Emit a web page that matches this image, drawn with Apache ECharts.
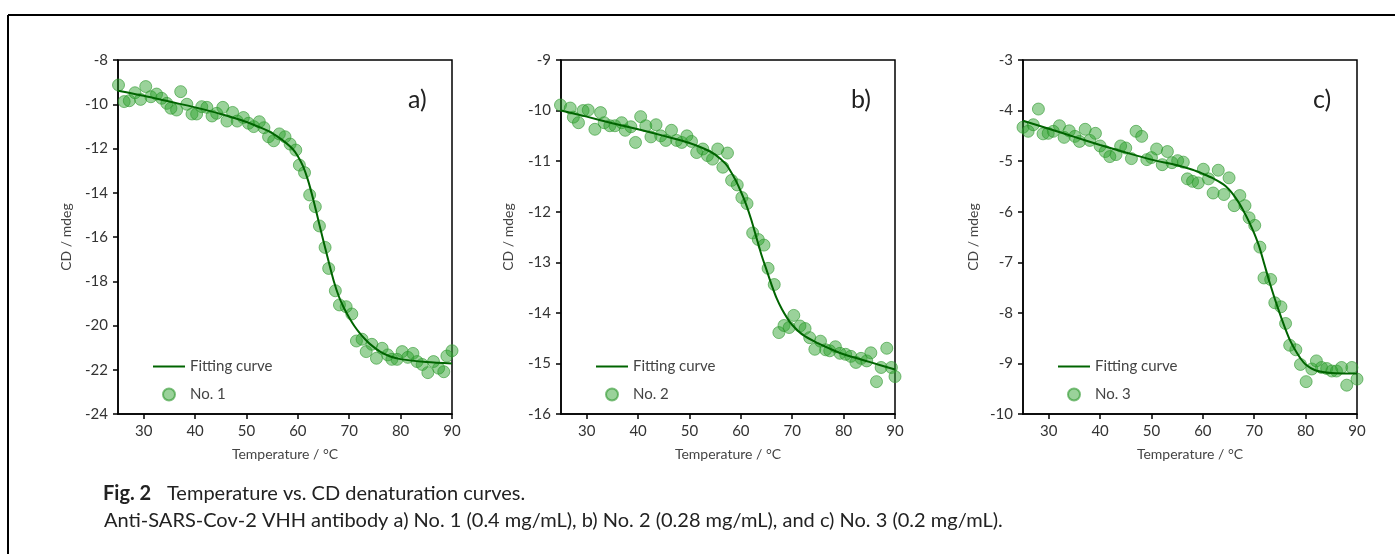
<!DOCTYPE html>
<html>
<head>
<meta charset="utf-8">
<script src="https://cdn.jsdelivr.net/npm/echarts@6/dist/echarts.min.js"></script>
<style>
  html, body { margin: 0; padding: 0; background: #fff; }
  #chart { width: 1395px; height: 554px; }
</style>
</head>
<body>
<div id="chart"></div>
<script>
// temperature ticks shared by the three panels
const xTicks = [30, 40, 50, 60, 70, 80, 90];

// a) No. 1 (0.4 mg/mL)
const tA = [25.1, 26.2, 27.2, 28.3, 29.4, 30.4, 31.4, 32.5, 33.5, 34.5, 35.3, 36.4, 37.2, 38.4, 39.4, 40.3, 41.3, 42.3, 43.3, 44.2, 45.4, 46.2, 47.3, 48.2, 49.4, 50.4, 51.4, 52.5, 53.4, 54.3, 55.3, 56.4, 57.5, 58.5, 59.6, 60.3, 61.3, 62.3, 63.4, 64.2, 65.3, 66.0, 67.3, 68.1, 69.4, 70.5, 71.4, 72.5, 73.3, 74.4, 75.3, 76.4, 77.5, 78.3, 79.3, 80.3, 81.4, 82.4, 83.2, 84.2, 85.3, 86.4, 87.4, 88.4, 89.0, 90.0];
const cdA = [-9.13, -9.88, -9.84, -9.48, -9.78, -9.2, -9.66, -9.54, -9.73, -9.96, -10.18, -10.26, -9.43, -10.0, -10.44, -10.44, -10.11, -10.14, -10.53, -10.41, -10.14, -10.76, -10.37, -10.76, -10.6, -10.86, -11.01, -10.79, -11.06, -11.47, -11.65, -11.34, -11.47, -11.8, -12.07, -12.75, -13.09, -14.1, -14.63, -15.5, -16.47, -17.42, -18.43, -19.07, -19.15, -19.48, -20.7, -20.62, -21.18, -20.85, -21.48, -21.03, -21.33, -21.53, -21.53, -21.18, -21.44, -21.26, -21.63, -21.76, -22.13, -21.63, -21.93, -22.09, -21.38, -21.14];
const fitTA = [25, 30, 35, 40, 45, 50, 53, 55, 57, 59, 60, 61, 62, 63, 64, 65, 66, 67, 68, 69, 70, 71, 72, 73, 74, 76, 78, 80, 85, 90];
const fitA = [-9.39, -9.62, -9.88, -10.14, -10.44, -10.8, -11.08, -11.3, -11.62, -12.02, -12.35, -12.8, -13.45, -14.3, -15.25, -16.2, -17.12, -18.0, -18.7, -19.22, -19.65, -20.02, -20.33, -20.6, -20.83, -21.18, -21.4, -21.52, -21.65, -21.72];

// b) No. 2 (0.28 mg/mL)
const tB = [24.9, 26.8, 27.4, 28.4, 29.3, 30.3, 31.6, 32.7, 33.4, 34.5, 35.5, 36.8, 37.5, 38.6, 39.5, 40.5, 41.5, 42.5, 43.5, 44.4, 45.4, 46.5, 47.5, 48.5, 49.5, 50.4, 51.4, 52.6, 53.5, 54.5, 55.5, 56.5, 57.4, 58.2, 59.3, 60.2, 61.2, 62.3, 63.4, 64.5, 65.3, 66.5, 67.4, 68.4, 69.4, 70.3, 71.5, 72.5, 73.4, 74.4, 75.5, 76.5, 77.3, 78.4, 79.3, 80.4, 81.4, 82.4, 83.4, 84.5, 85.3, 86.4, 87.3, 88.4, 89.3, 90.0];
const cdB = [-9.89, -9.95, -10.13, -10.24, -10.0, -9.99, -10.37, -10.04, -10.24, -10.3, -10.3, -10.24, -10.39, -10.32, -10.63, -10.12, -10.3, -10.52, -10.28, -10.5, -10.59, -10.39, -10.59, -10.63, -10.5, -10.61, -10.83, -10.76, -10.89, -10.96, -10.76, -11.12, -10.84, -11.38, -11.47, -11.72, -11.84, -12.42, -12.55, -12.66, -13.12, -13.44, -14.39, -14.25, -14.29, -14.05, -14.26, -14.31, -14.49, -14.72, -14.56, -14.73, -14.75, -14.67, -14.8, -14.82, -14.86, -14.98, -14.9, -14.95, -14.79, -15.36, -15.08, -14.7, -15.08, -15.26];
const fitTB = [25, 30, 35, 40, 45, 50, 53, 55, 57, 58, 59, 60, 61, 62, 63, 64, 65, 66, 67, 68, 69, 70, 72, 75, 78, 80, 85, 90];
const fitB = [-10.0, -10.12, -10.25, -10.37, -10.5, -10.64, -10.76, -10.87, -11.05, -11.2, -11.38, -11.6, -11.85, -12.15, -12.5, -12.85, -13.15, -13.45, -13.72, -13.93, -14.1, -14.24, -14.43, -14.6, -14.74, -14.82, -14.97, -15.12];

// c) No. 3 (0.2 mg/mL)
const tC = [25.0, 26.0, 27.0, 28.0, 28.9, 29.9, 30.9, 32.1, 33.0, 34.0, 35.1, 36.0, 37.1, 38.0, 39.1, 40.0, 41.0, 41.9, 43.1, 44.0, 45.0, 46.1, 47.0, 48.1, 49.1, 50.0, 51.0, 52.1, 53.1, 54.0, 55.1, 56.2, 57.0, 58.0, 59.1, 60.1, 61.1, 62.0, 63.0, 64.1, 65.1, 66.1, 67.2, 68.2, 69.0, 70.1, 71.1, 71.9, 73.2, 74.0, 75.2, 76.1, 76.9, 78.1, 79.0, 80.1, 81.2, 82.1, 83.1, 84.1, 85.1, 86.0, 87.0, 88.0, 89.0, 90.0];
const cdC = [-4.33, -4.41, -4.28, -3.97, -4.46, -4.45, -4.41, -4.3, -4.53, -4.4, -4.51, -4.61, -4.37, -4.59, -4.45, -4.7, -4.81, -4.91, -4.87, -4.7, -4.74, -4.95, -4.41, -4.51, -4.97, -4.93, -4.76, -5.07, -4.81, -5.03, -4.99, -5.02, -5.35, -5.4, -5.43, -5.16, -5.35, -5.63, -5.18, -5.66, -5.33, -5.88, -5.68, -5.88, -6.12, -6.27, -6.7, -7.31, -7.34, -7.8, -7.88, -8.21, -8.64, -8.73, -9.02, -9.36, -9.11, -8.95, -9.08, -9.1, -9.15, -9.15, -9.08, -9.43, -9.08, -9.31];
const fitTC = [25, 30, 35, 40, 45, 50, 55, 58, 60, 62, 64, 65, 66, 67, 68, 69, 70, 71, 72, 73, 74, 75, 76, 77, 78, 79, 80, 82, 85, 90];
const fitC = [-4.2, -4.36, -4.52, -4.68, -4.83, -4.97, -5.08, -5.17, -5.25, -5.34, -5.46, -5.55, -5.67, -5.82, -6.0, -6.2, -6.43, -6.7, -7.05, -7.4, -7.72, -8.02, -8.3, -8.55, -8.74, -8.9, -9.02, -9.14, -9.19, -9.2];

const panels = [
  { label: "a)", name: "No. 1", t: tA, cd: cdA, fitT: fitTA, fit: fitA, yMin: -24, yMax: -8, yStep: 2, left: 118, nameGap: 45 },
  { label: "b)", name: "No. 2", t: tB, cd: cdB, fitT: fitTB, fit: fitB, yMin: -16, yMax: -9, yStep: 1, left: 561, nameGap: 46 },
  { label: "c)", name: "No. 3", t: tC, cd: cdC, fitT: fitTC, fit: fitC, yMin: -10, yMax: -3, yStep: 1, left: 1023, nameGap: 43 }
];

const FONT = "Lato, 'Noto Sans', sans-serif";
const GRID_W = 334, GRID_TOP = 60, GRID_H = 354;
const zip = (xs, ys) => xs.map((x, i) => [x, ys[i]]);

const option = {
  animation: false,
  textStyle: { fontFamily: FONT },
  title: panels.map(p => ({
    text: p.label,
    left: p.left + 285,
    top: 82,
    textStyle: { fontFamily: FONT, fontSize: 25, fontWeight: "normal", color: "#222" }
  })),
  grid: panels.map(p => ({
    left: p.left, top: GRID_TOP, width: GRID_W, height: GRID_H,
    show: true, borderColor: "#000", borderWidth: 1.5, backgroundColor: "transparent"
  })),
  legend: panels.map(p => ({
    orient: "vertical",
    left: p.left + 30,
    top: 354,
    itemWidth: 32,
    itemHeight: 12,
    itemGap: 13,
    data: [
      { name: "Fitting curve", icon: "path://M0,0h32v2h-32z" },
      { name: p.name, icon: "circle" }
    ],
    textStyle: { fontFamily: FONT, fontSize: 15, color: "#444" }
  })),
  xAxis: panels.map((p, i) => ({
    type: "value", gridIndex: i, min: 25, max: 90,
    name: "Temperature / °C", nameLocation: "middle", nameGap: 33,
    nameTextStyle: { fontFamily: FONT, fontSize: 14, color: "#444" },
    axisLine: { lineStyle: { color: "#000", width: 1.5 } },
    axisTick: { length: 5, lineStyle: { color: "#000", width: 1.5 }, customValues: xTicks },
    axisLabel: { fontSize: 15, color: "#333", margin: 10, customValues: xTicks },
    splitLine: { show: false }
  })),
  yAxis: panels.map((p, i) => ({
    type: "value", gridIndex: i, min: p.yMin, max: p.yMax, interval: p.yStep,
    name: "CD / mdeg", nameLocation: "middle", nameGap: p.nameGap,
    nameTextStyle: { fontFamily: FONT, fontSize: 14, color: "#444" },
    axisLine: { lineStyle: { color: "#000", width: 1.5 } },
    axisTick: { length: 5, lineStyle: { color: "#000", width: 1.5 } },
    axisLabel: { fontSize: 15, color: "#333", margin: 10 },
    splitLine: { show: false }
  })),
  series: panels.flatMap((p, i) => [
    {
      name: p.name, type: "scatter", xAxisIndex: i, yAxisIndex: i,
      data: zip(p.t, p.cd), symbolSize: 12, clip: false,
      itemStyle: { color: "rgba(44,160,44,0.6)", borderColor: "rgba(44,150,44,0.75)", borderWidth: 1 }
    },
    {
      name: "Fitting curve", type: "line", xAxisIndex: i, yAxisIndex: i,
      data: zip(p.fitT, p.fit), smooth: 0.3, symbol: "none", z: 3,
      lineStyle: { color: "#006400", width: 2 },
      itemStyle: { color: "#006400" }
    }
  ]),
  graphic: [
    { type: "line", shape: { x1: 8, y1: 15, x2: 1395, y2: 15 }, style: { stroke: "#000", lineWidth: 2 } },
    { type: "line", shape: { x1: 8, y1: 15, x2: 8, y2: 554 }, style: { stroke: "#000", lineWidth: 2 } },
    { type: "text", left: 103, top: 484, style: { text: "Fig. 2", font: "bold 20px " + FONT, fill: "#222" } },
    { type: "text", left: 167, top: 484, style: { text: "Temperature vs. CD denaturation curves.", font: "20px " + FONT, fill: "#222" } },
    { type: "text", left: 104, top: 511, style: { text: "Anti-SARS-Cov-2 VHH antibody a) No. 1 (0.4 mg/mL), b) No. 2 (0.28 mg/mL), and c) No. 3 (0.2 mg/mL).", font: "20px " + FONT, fill: "#222" } }
  ]
};

const chart = echarts.init(document.getElementById("chart"));
chart.setOption(option);
</script>
</body>
</html>
